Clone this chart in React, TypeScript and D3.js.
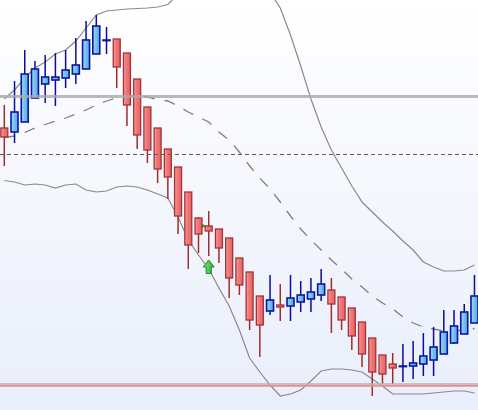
import { select, scaleBand, scaleLinear, line, range } from "d3";
import React, { useEffect, useRef } from "react";

// OHLC per bar
const opens = [
  128.2, 127.8, 128.8, 131.2, 132.6, 133.0, 133.2, 133.6, 134.1, 135.6, 137.0,
  137.1, 135.7, 133.1, 130.3, 128.2, 126.1, 124.3, 121.8, 119.2, 118.4, 118.1,
  117.2, 115.2, 113.8, 111.4, 109.9, 110.5, 110.4, 110.8, 111.1, 111.5, 112.0,
  111.3, 110.2, 108.8, 107.2, 105.5, 104.6, 104.4, 104.4, 104.6, 105.0, 105.6,
  106.7, 107.6, 108.7,
];
const highs = [
  130.5, 132.9, 136.0, 134.9, 135.5, 135.7, 136.0, 137.2, 138.9, 139.5, 138.3,
  137.1, 135.7, 133.1, 130.3, 128.2, 126.1, 124.3, 121.8, 119.3, 119.9, 118.1,
  117.2, 115.2, 113.8, 111.4, 113.5, 112.6, 113.5, 112.9, 113.2, 114.1, 113.2,
  111.3, 110.2, 108.8, 107.2, 105.5, 105.7, 106.6, 106.9, 107.7, 108.3, 110.0,
  110.0, 110.6, 113.5,
];
const lows = [
  124.4, 126.7, 128.8, 131.2, 130.7, 130.4, 132.2, 132.6, 134.1, 135.6, 135.6,
  132.2, 128.4, 126.1, 124.7, 122.7, 121.1, 117.6, 114.1, 115.7, 115.4, 114.7,
  111.2, 111.5, 108.0, 105.3, 109.5, 108.9, 108.9, 109.8, 109.8, 110.9, 107.7,
  108.0, 106.0, 104.3, 101.4, 102.6, 102.6, 102.8, 103.1, 103.4, 103.4, 105.6,
  106.6, 107.6, 108.7,
];
const closes = [
  127.3, 129.8, 133.6, 134.1, 133.3, 133.3, 134.0, 134.5, 137.0, 138.4, 137.0,
  134.3, 130.5, 127.5, 126.0, 124.1, 123.3, 119.4, 116.5, 117.6, 117.9, 116.2,
  113.2, 112.5, 109.0, 108.5, 111.0, 110.3, 111.2, 111.5, 111.8, 112.6, 110.6,
  109.0, 107.4, 105.6, 103.8, 103.6, 104.2, 104.4, 104.7, 105.4, 106.3, 107.8,
  108.4, 109.8, 111.4,
];

// bollinger bands
const upperBand = [
  131.1, 132.0, 133.2, 134.2, 134.8, 135.6, 136.0, 136.9, 138.2, 139.5, 139.9,
  140.0, 140.1, 140.15, 140.2, 140.3, 140.55, 141.6, 142.5, 143.4, 144.2, 144.8,
  145.1, 145.0, 144.5, 143.4, 141.8, 140.2, 137.5, 134.4, 131.1, 128.3, 126.0,
  124.2, 122.4, 120.8, 119.8, 118.8, 117.9, 116.9, 116.0, 114.8, 114.3, 113.9,
  113.9, 114.0, 114.5,
];
const middleBand = [
  127.25, 127.4, 127.75, 128.2, 128.55, 128.9, 129.2, 129.6, 130.0, 130.5, 130.9,
  131.2, 131.4, 131.45, 131.3, 131.05, 130.9, 130.4, 129.8, 129.3, 128.8, 127.8,
  127.0, 125.8, 124.4, 123.2, 122.1, 120.8, 119.4, 118.1, 117.0, 116.0, 115.0,
  114.1, 113.1, 112.3, 111.4, 110.7, 110.1, 109.3, 108.7, 108.3, 108.1, 107.9,
  107.9, 108.0, 108.15,
];
const lowerBand = [
  122.95, 122.8, 122.5, 122.6, 122.5, 122.2, 122.5, 122.6, 122.0, 121.8, 121.9,
  122.3, 122.4, 122.3, 122.0, 121.6, 121.2, 119.3, 117.0, 115.5, 114.1, 112.2,
  110.4, 108.0, 105.2, 103.8, 102.5, 101.4, 101.6, 102.0, 102.9, 103.9, 104.1,
  104.1, 104.0, 103.8, 103.1, 102.4, 101.6, 101.6, 101.6, 101.6, 101.7, 101.8,
  101.9, 101.9, 101.7,
];

// horizontal levels
const resistanceLevel = 131.35;
const pivotLevel = 125.55;
const supportLevel = 102.6;
const stopLevel = 102.42;

// signals
const buyArrowIndex = [20];
const buyArrowPrice = [115.0];
const entryIndex = [20];
const entryPrice = [118.4];

const WIDTH = 478;
const HEIGHT = 410;

const CandleChart = () => {
  const chartRef = useRef<SVGSVGElement>(null);

  useEffect(() => {
    if (!chartRef.current) return;
    const svg = select(chartRef.current);
    svg.selectAll("*").remove();

    const idx = range(opens.length);

    const x = scaleBand<number>()
      .domain(idx)
      .range([-1.83, 480.6])
      .padding(0.2);
    const y = scaleLinear().domain([100, 141]).range([HEIGHT, 0]);
    const bw = x.bandwidth();
    const cx = (i: number) => (x(i) || 0) + bw / 2;

    const defs = svg.append("defs");
    const bg = defs
      .append("linearGradient")
      .attr("id", "bg")
      .attr("x1", 0)
      .attr("y1", 0)
      .attr("x2", 0)
      .attr("y2", 1);
    bg.append("stop").attr("offset", "0%").attr("stop-color", "#ffffff");
    bg.append("stop").attr("offset", "100%").attr("stop-color", "#e9eefb");

    const redGrad = defs.append("linearGradient").attr("id", "redBody");
    redGrad.append("stop").attr("offset", "0%").attr("stop-color", "#f7a9a9");
    redGrad.append("stop").attr("offset", "35%").attr("stop-color", "#f07a7a");
    redGrad.append("stop").attr("offset", "100%").attr("stop-color", "#e86262");

    const blueGrad = defs.append("linearGradient").attr("id", "blueBody");
    blueGrad.append("stop").attr("offset", "0%").attr("stop-color", "#9bd9f6");
    blueGrad.append("stop").attr("offset", "100%").attr("stop-color", "#4fa9e1");

    const greenGrad = defs
      .append("linearGradient")
      .attr("id", "greenArrow")
      .attr("x1", 0)
      .attr("y1", 0)
      .attr("x2", 1)
      .attr("y2", 0);
    greenGrad.append("stop").attr("offset", "0%").attr("stop-color", "#7ee07e");
    greenGrad.append("stop").attr("offset", "100%").attr("stop-color", "#2fa83a");

    svg
      .append("rect")
      .attr("width", WIDTH)
      .attr("height", HEIGHT)
      .attr("fill", "url(#bg)");

    // bands
    const bandLine = line<number>()
      .x((_, i) => cx(i))
      .y((d) => y(d));

    svg
      .append("path")
      .datum(middleBand)
      .attr("fill", "none")
      .attr("stroke", "#7f7f7f")
      .attr("stroke-width", 1.3)
      .attr("stroke-dasharray", "11,10")
      .attr("d", bandLine);

    [upperBand, lowerBand].forEach((band) => {
      svg
        .append("path")
        .datum(band)
        .attr("fill", "none")
        .attr("stroke", "#8a8a8a")
        .attr("stroke-width", 1.2)
        .attr("d", bandLine);
    });

    // entry marker (behind candles)
    svg
      .selectAll(".entry")
      .data(entryIndex)
      .enter()
      .append("path")
      .attr("class", "entry")
      .attr("transform", (d, i) => `translate(${cx(d) - 3},${y(entryPrice[i])})`)
      .attr("d", "M-9,-4L0,0L-9,4Z")
      .attr("fill", "url(#greenArrow)")
      .attr("stroke", "#1f8a2a")
      .attr("stroke-width", 0.8);

    // candles
    const up = (i: number) => closes[i] >= opens[i];

    svg
      .selectAll(".wick")
      .data(idx)
      .enter()
      .append("line")
      .attr("class", "wick")
      .attr("x1", (d) => cx(d))
      .attr("x2", (d) => cx(d))
      .attr("y1", (d) => y(highs[d]))
      .attr("y2", (d) => y(lows[d]))
      .attr("stroke", (d) => (up(d) ? "#0b0b9e" : "#a02c2c"))
      .attr("stroke-width", 1.5);

    svg
      .selectAll(".body")
      .data(idx)
      .enter()
      .append("rect")
      .attr("class", "body")
      .attr("x", (d) => (x(d) || 0) + 0.6)
      .attr("width", bw - 1.2)
      .attr("y", (d) => y(Math.max(opens[d], closes[d])))
      .attr("height", (d) =>
        Math.max(0.6, Math.abs(y(opens[d]) - y(closes[d])))
      )
      .attr("fill", (d) => (up(d) ? "url(#blueBody)" : "url(#redBody)"))
      .attr("stroke", (d) => (up(d) ? "#0b16a3" : "#a3333a"))
      .attr("stroke-width", (d) => (up(d) ? 1.6 : 1.3));

    // buy arrow
    svg
      .selectAll(".buy")
      .data(buyArrowIndex)
      .enter()
      .append("path")
      .attr("class", "buy")
      .attr("transform", (d, i) => `translate(${cx(d)},${y(buyArrowPrice[i])})`)
      .attr("d", "M0,0L5.5,7L2.6,7L2.6,13.5L-2.6,13.5L-2.6,7L-5.5,7Z")
      .attr("fill", "url(#greenArrow)")
      .attr("stroke", "#1f8a2a")
      .attr("stroke-width", 1);

    // levels on top
    svg
      .append("line")
      .attr("x1", 0)
      .attr("x2", WIDTH)
      .attr("y1", y(resistanceLevel))
      .attr("y2", y(resistanceLevel))
      .attr("stroke", "#a9a9a9")
      .attr("stroke-opacity", 0.8)
      .attr("stroke-width", 3);

    svg
      .append("line")
      .attr("x1", 0)
      .attr("x2", WIDTH)
      .attr("y1", y(pivotLevel))
      .attr("y2", y(pivotLevel))
      .attr("stroke", "#5f5f5f")
      .attr("stroke-width", 1.2)
      .attr("stroke-dasharray", "4,3");

    svg
      .append("line")
      .attr("x1", 0)
      .attr("x2", WIDTH)
      .attr("y1", y(supportLevel))
      .attr("y2", y(supportLevel))
      .attr("stroke", "#b4b4b4")
      .attr("stroke-width", 1.5);

    svg
      .append("line")
      .attr("x1", 0)
      .attr("x2", WIDTH)
      .attr("y1", y(stopLevel))
      .attr("y2", y(stopLevel))
      .attr("stroke", "#f08a8a")
      .attr("stroke-width", 1.8);
  }, []);

  return (
    <svg
      ref={chartRef}
      width={WIDTH}
      height={HEIGHT}
      style={{ position: "absolute", left: 0, top: 0, display: "block" }}
    ></svg>
  );
};

export default function App() {
  return <CandleChart />;
}
